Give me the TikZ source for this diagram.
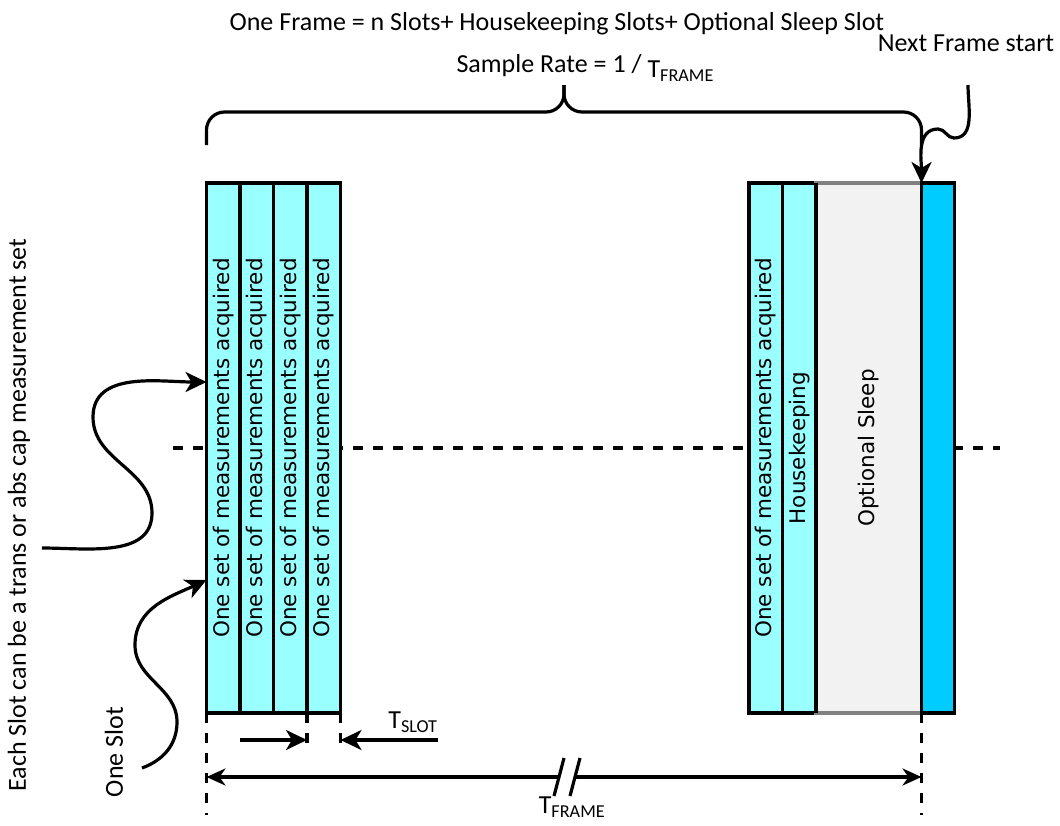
\documentclass[tikz,border=0pt]{standalone}
\usepackage{fontspec}
\setmainfont{Carlito}
\newfontfamily\slotfont{DejaVu Sans}
\usetikzlibrary{positioning,calc,arrows.meta}

\definecolor{slotcyan}{HTML}{99FFFF}
\definecolor{sleepgray}{HTML}{F2F2F2}
\definecolor{sleepedge}{HTML}{808080}
\definecolor{nextblue}{HTML}{00CCFF}

\tikzset{
  slotbox/.style={draw, fill=slotcyan, line width=3.2pt, inner sep=0pt, outer sep=0pt,
    minimum width=33.5pt, minimum height=530pt, font=\slotfont\fontsize{21.5}{24}\selectfont},
  sleepbox/.style={slotbox, draw=sleepedge, fill=sleepgray, minimum width=105.5pt},
  nextbox/.style={slotbox, fill=nextblue, minimum width=33pt},
  dashline/.style={line width=3.2pt, dash pattern=on 10pt off 10pt},
  arr/.style={line width=3.2pt, -{Stealth[length=21pt,width=20pt,inset=6pt]}},
  twoarr/.style={line width=3.2pt, {Stealth[length=19pt,width=17pt,inset=6pt]}-{Stealth[length=19pt,width=17pt,inset=6pt]}},
  bracepath/.style={line width=3.2pt, rounded corners=18pt},
  lbl/.style={font=\fontsize{26}{30}\selectfont}
}

\begin{document}
\begin{tikzpicture}[x=1pt,y=1pt]
  \useasboundingbox (0,0) rectangle (1060,-825);

  % Dashed middle line, drawn first so the slots sit on top
  \draw[dashline] (173,-448) -- (1000,-448);

  % The n slots at the start of the frame
  \node[slotbox] (s1) at (223.25,-448) {\rotatebox{90}{One set of measurements acquired}};
  \node[slotbox, right=0pt of s1] (s2) {\rotatebox{90}{One set of measurements acquired}};
  \node[slotbox, right=0pt of s2] (s3) {\rotatebox{90}{One set of measurements acquired}};
  \node[slotbox, right=0pt of s3] (s4) {\rotatebox{90}{One set of measurements acquired}};

  % Last slot, housekeeping, sleep and the next frame
  \node[slotbox] (r1) at (765.75,-448) {\rotatebox{90}{One set of measurements acquired}};
  \node[slotbox, right=0pt of r1] (hk) {\rotatebox{90}{Housekeeping}};
  \node[sleepbox, right=0pt of hk] (sleep) {\rotatebox{90}{Optional Sleep}};
  \node[nextbox, right=0pt of sleep] (nf) {};
  \draw[line width=3.2pt] (hk.north east) -- (hk.south east);

  % Brace over one frame
  \coordinate (bmid) at ($(s1.north west)!0.5!(nf.north west)+(0,71)$);
  \coordinate (btip) at ($(bmid)+(0,27)$);
  \draw[bracepath] ([yshift=38pt]s1.north west) |- (bmid) -- (btip);
  \draw[bracepath] ([yshift=38pt]nf.north west) |- (bmid) -- (btip);

  % Texts on top
  \node[lbl] (title) at (557,-24) {One Frame = n Slots+ Housekeeping Slots+ Optional Sleep Slot};
  \node[lbl, anchor=west] (rate) at (453,-68) {Sample Rate = 1 / \raisebox{-5pt}{T\textsubscript{FRAME}}};
  \node[lbl] (nextlbl) at (966,-43) {Next Frame start};
  \coordinate (nextstart) at (968,-85);
  \draw[arr] (nextstart) to[out=-90,in=0] (954,-138) to[out=180,in=0] (938,-129)
    to[out=180,in=90] (nf.north west);

  % Texts on the left and their arrows
  \node[lbl, rotate=90] (eachlbl) at (19,-515) {Each Slot can be a trans or abs cap measurement set};
  \node[lbl, rotate=90] (onelbl) at (114,-752) {One Slot};
  \coordinate (eachstart) at (42,-548);
  \coordinate (onestart) at (142,-768);
  \draw[arr] (eachstart) to[out=0,in=-90] (152,-513) to[out=90,in=-90] (93,-417)
    to[out=90,in=180] ([yshift=66pt]s1.west);
  \draw[arr] (onestart) to[out=20,in=-90] (177,-722) to[out=90,in=-90] (135,-645)
    to[out=90,in=205] ([yshift=-132pt]s1.west);

  % Dashed guides below
  \draw[dashline] (s1.south west) -- ++(0,-102);
  \draw[dashline] (s4.south west) -- ++(0,-32);
  \draw[dashline] (s4.south east) -- ++(0,-32);
  \draw[dashline] (nf.south west) -- ++(0,-102);

  % T_SLOT
  \draw[arr] ([yshift=-27pt]s2.south west) -- ([yshift=-27pt]s4.south west);
  \draw[arr] ([shift={(97pt,-27pt)}]s4.south east) -- ([yshift=-27pt]s4.south east);
  \node[lbl] (tslot) at (413,-722) {T\textsubscript{SLOT}};

  % T_FRAME with a break mark
  \draw[twoarr] ([yshift=-64pt]s1.south west) -- ([yshift=-64pt]nf.south west);
  \coordinate (brk) at (567,-777);
  \draw[white, line width=6pt] ([xshift=-7pt]brk) -- ([xshift=7pt]brk);
  \draw[line width=3.2pt] ([shift={(-13,-19)}]brk) -- ([shift={(-3,19)}]brk);
  \draw[line width=3.2pt] ([shift={(3,-19)}]brk) -- ([shift={(13,19)}]brk);
  \node[lbl] (tframe) at (572,-807) {T\textsubscript{FRAME}};
\end{tikzpicture}
\end{document}
